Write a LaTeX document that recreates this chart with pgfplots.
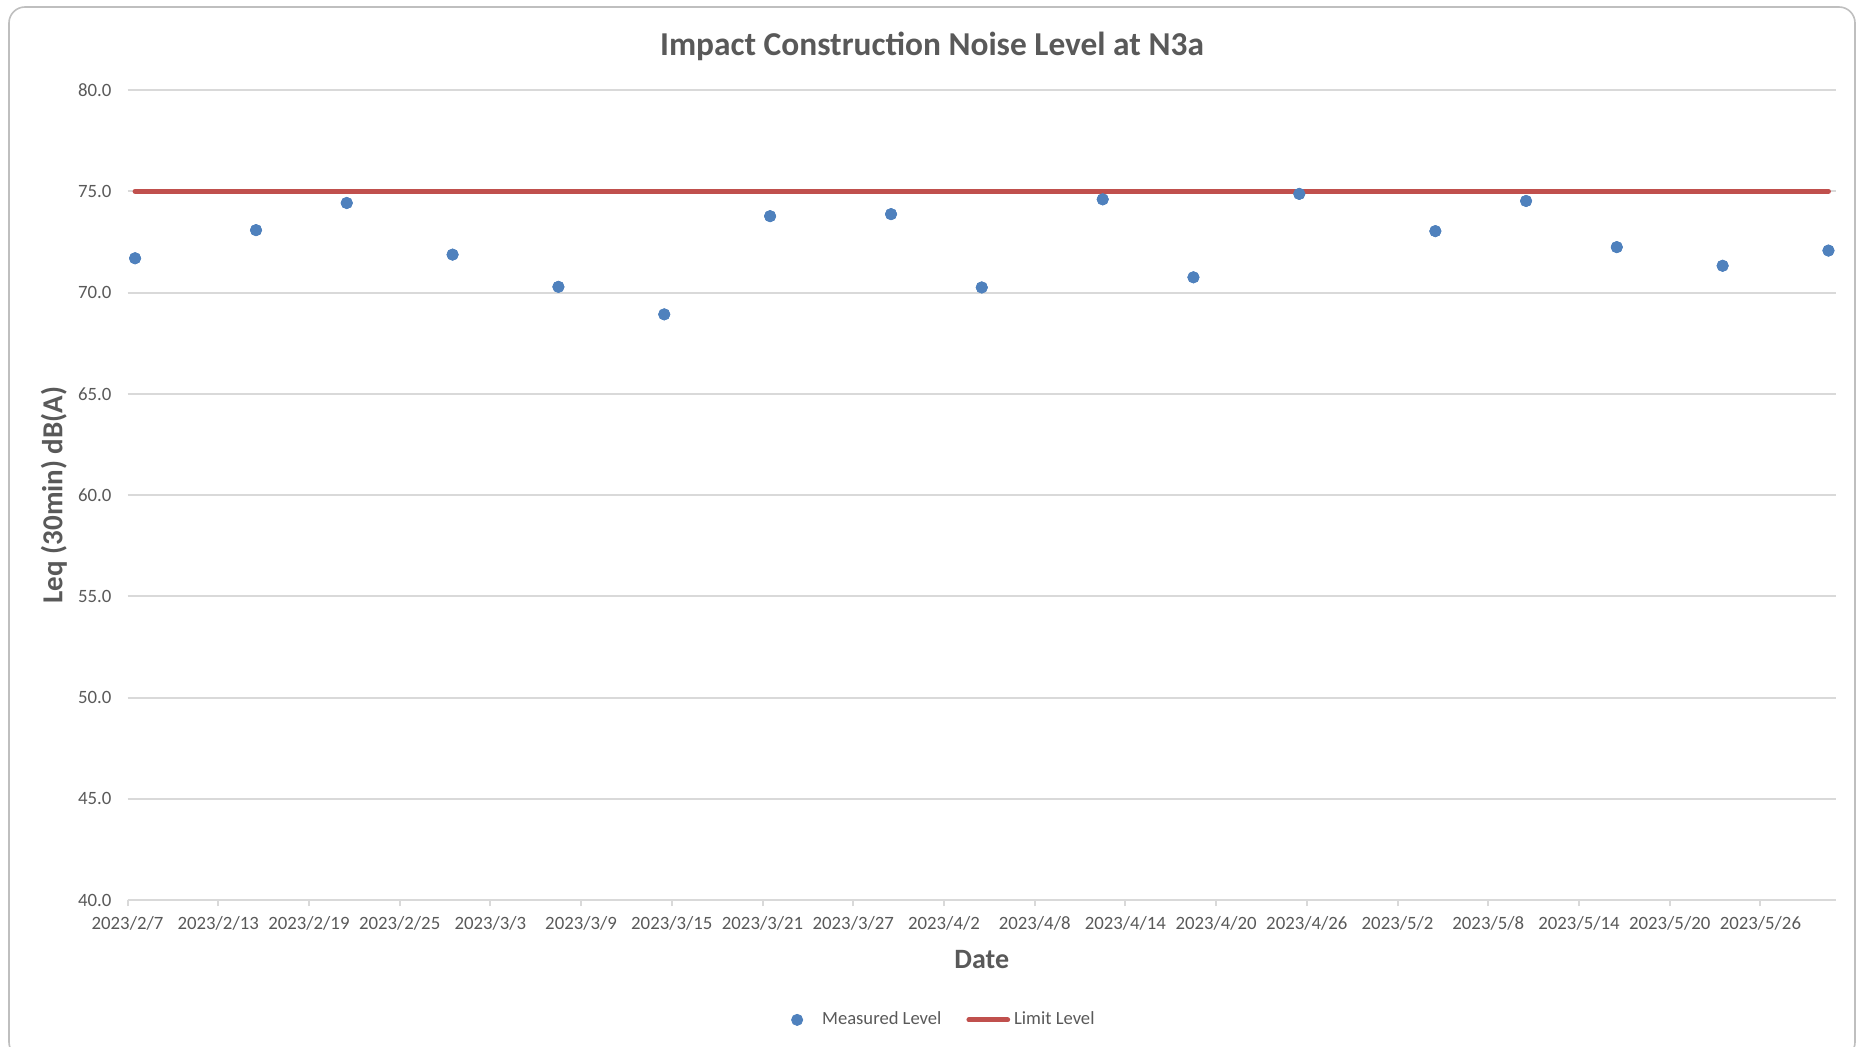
\documentclass[border=0pt]{standalone}
\usepackage{pgfplots}
\pgfplotsset{compat=1.18}
\usepackage{fontspec}
\setmainfont{Carlito}
\definecolor{txt}{HTML}{595959}
\definecolor{gridc}{HTML}{D9D9D9}
\definecolor{blu}{HTML}{4F81BD}
\definecolor{rd}{HTML}{C0504D}
\definecolor{framec}{HTML}{BFBFBF}
\pgfplotsset{longline/.style={legend image code/.code={\draw[##1] (0cm,0cm) -- (0.68cm,0cm);}},
  dotleg/.style={legend image code/.code={\path[draw=none,fill=none] (0.3cm,0cm) -- (0.3cm+10.5pt,0cm);\draw[mark repeat=2,mark phase=2,##1] plot coordinates {(0cm,0cm)(0.3cm,0cm)(0.6cm,0cm)};}}}
\begin{document}
\begin{tikzpicture}
\path[use as bounding box] (0,0) rectangle (928pt,523pt);
\begin{scope}
\clip (0,0) rectangle (928pt,523pt);
\draw[framec, line width=0.8pt, rounded corners=8pt] (4.5pt,-6pt) rectangle (927.5pt,519.5pt);
\end{scope}
\begin{axis}[
  at={(63.75pt,73pt)}, anchor=south west, scale only axis,
  width=854.25pt, height=405pt,
  xmin=0, xmax=113, ymin=40, ymax=80,
  xtick={0,6,...,108},
  xticklabels={2023/2/7,2023/2/13,2023/2/19,2023/2/25,2023/3/3,2023/3/9,2023/3/15,2023/3/21,2023/3/27,2023/4/2,2023/4/8,2023/4/14,2023/4/20,2023/4/26,2023/5/2,2023/5/8,2023/5/14,2023/5/20,2023/5/26},
  ytick={40,45,...,80},
  /pgf/number format/assume math mode=true,
  /pgf/number format/fixed, /pgf/number format/fixed zerofill, /pgf/number format/precision=1,
  ticklabel style={font=\fontsize{9.4}{11}\selectfont, text=txt},
  yticklabel style={xshift=-1.5pt},
  xticklabel style={yshift=-1.8pt},
  axis line style={draw=none},
  ymajorgrids, grid style={gridc, line width=1pt},
  xtick pos=lower, tick align=outside,
  xtick style={gridc, line width=1pt}, major tick length=3pt,
  ytick style={draw=none},
  legend style={at={(0.4785,-0.148)}, anchor=center, draw=none, fill=none,
    legend columns=2, font=\fontsize{9.3}{11}\selectfont, text=txt,
    /tikz/every even column/.append style={column sep=10.5pt}},
  clip=false,
]
\addplot[only marks, mark=*, mark size=2.8pt, blu, mark options={fill=blu, draw=blu}, dotleg] coordinates {
(0.5,71.69) (8.5,73.08) (14.5,74.42) (21.5,71.87) (28.5,70.28) (35.5,68.92) (42.5,73.77) (50.5,73.87) (56.5,70.25) (64.5,74.60) (70.5,70.75) (77.5,74.87) (86.5,73.03) (92.5,74.52) (98.5,72.24) (105.5,71.32) (112.5,72.07)};
\addlegendentry{Measured Level}
\addplot[rd, line width=2.5pt, line cap=round, no marks, longline] coordinates {(0.5,75) (112.5,75)};
\addlegendentry{Limit Level}
\addplot[forget plot, only marks, mark=*, mark size=2.8pt, blu, mark options={fill=blu, draw=blu}] coordinates {
(0.5,71.69) (8.5,73.08) (14.5,74.42) (21.5,71.87) (28.5,70.28) (35.5,68.92) (42.5,73.77) (50.5,73.87) (56.5,70.25) (64.5,74.60) (70.5,70.75) (77.5,74.87) (86.5,73.03) (92.5,74.52) (98.5,72.24) (105.5,71.32) (112.5,72.07)};
\end{axis}
\node[txt, font=\bfseries\fontsize{16.7}{20}\selectfont] at (466pt,500pt) {Impact Construction Noise Level at N3a};
\node[txt, font=\bfseries\fontsize{14}{17}\selectfont] at (490.9pt,43pt) {Date};
\node[txt, font=\bfseries\fontsize{14.5}{17}\selectfont, rotate=90] at (27pt,275.5pt) {Leq (30min) dB(A)};
\end{tikzpicture}
\end{document}
